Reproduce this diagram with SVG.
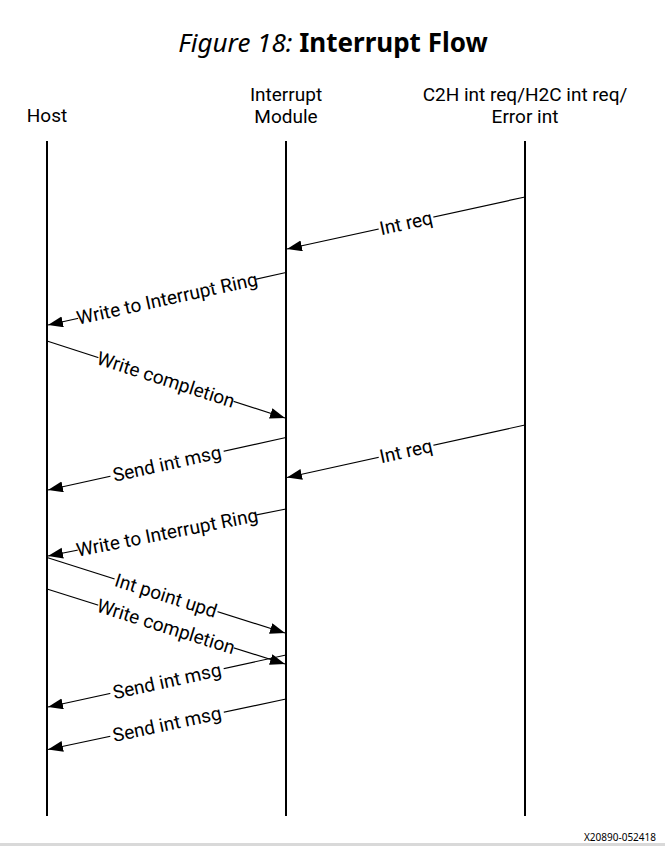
<svg xmlns="http://www.w3.org/2000/svg" width="665" height="846" viewBox="0 0 665 846">
<style>
.title{font-family:"Noto Sans","Open Sans",sans-serif;font-size:26px;fill:#000}
.hdr{font-family:Roboto,"Liberation Sans",sans-serif;font-size:19px;fill:#000;text-anchor:middle}
.life{stroke:#000;stroke-width:2;fill:none}
.msg{stroke:#000;stroke-width:1.2;fill:none;marker-end:url(#ah)}
.lbl{font-family:Roboto,"Liberation Sans",sans-serif;font-size:19px;fill:#000;text-anchor:middle}
.bg{fill:#fff}
.fig{font-family:"Noto Sans","Liberation Sans",sans-serif;font-size:10px;fill:#000;text-anchor:end}
</style>
<defs>
<marker id="ah" markerUnits="userSpaceOnUse" markerWidth="16" markerHeight="12" refX="15" refY="5.5" orient="auto">
<path d="M0,0 L15,5.5 L0,11 Z" fill="#000"/>
</marker>
</defs>
<rect width="665" height="846" fill="#fff"/>
<text class="title" x="333" y="52" text-anchor="middle"><tspan font-style="italic">Figure 18:</tspan> <tspan font-weight="bold">Interrupt Flow</tspan></text>
<g id="host">
<text class="hdr" x="47" y="122">Host</text>
<line class="life" x1="47" y1="141" x2="47" y2="816"/>
</g>
<g id="interrupt-module">
<text class="hdr" x="286" y="101">Interrupt</text>
<text class="hdr" x="286" y="123">Module</text>
<line class="life" x1="286" y1="141" x2="286" y2="816"/>
</g>
<g id="source">
<text class="hdr" x="525" y="101">C2H int req/H2C int req/</text>
<text class="hdr" x="525" y="123">Error int</text>
<line class="life" x1="525" y1="141" x2="525" y2="816"/>
</g>
<g id="connectors">
<line class="msg" x1="525" y1="197" x2="287" y2="249"/>
<line class="msg" x1="286" y1="272.5" x2="48" y2="325"/>
<line class="msg" x1="47" y1="341" x2="285" y2="418"/>
<line class="msg" x1="286" y1="437.5" x2="48" y2="490"/>
<line class="msg" x1="525" y1="425" x2="287" y2="477.5"/>
<line class="msg" x1="286" y1="509" x2="48" y2="556"/>
<line class="msg" x1="47" y1="557.5" x2="285" y2="633"/>
<line class="msg" x1="47" y1="589" x2="285" y2="664"/>
<line class="msg" x1="286" y1="655" x2="48" y2="707"/>
<line class="msg" x1="286" y1="699" x2="48" y2="749.5"/>
<g transform="translate(406,223) rotate(-12.3)"><rect class="bg" x="-28" y="-4" width="56" height="8"/><text class="lbl" dy="0.35em">Int req</text></g>
<g transform="translate(167,298.5) rotate(-12.4)"><rect class="bg" x="-91" y="-4" width="182" height="8"/><text class="lbl" dy="0.35em">Write to Interrupt Ring</text></g>
<g transform="translate(166,379.5) rotate(17.9)"><rect class="bg" x="-71" y="-4" width="142" height="8"/><text class="lbl" dy="0.35em">Write completion</text></g>
<g transform="translate(167,463.5) rotate(-12.4)"><rect class="bg" x="-58" y="-4" width="116" height="8"/><text class="lbl" dy="0.35em">Send int msg</text></g>
<g transform="translate(406,451) rotate(-12.4)"><rect class="bg" x="-28" y="-4" width="56" height="8"/><text class="lbl" dy="0.35em">Int req</text></g>
<g transform="translate(167,532.5) rotate(-11.1)"><rect class="bg" x="-91" y="-4" width="182" height="8"/><text class="lbl" dy="0.35em">Write to Interrupt Ring</text></g>
<g transform="translate(166,595.5) rotate(17.6)"><rect class="bg" x="-54" y="-4" width="108" height="8"/><text class="lbl" dy="0.35em">Int point upd</text></g>
<g transform="translate(166,626.5) rotate(17.5)"><rect class="bg" x="-71" y="-4" width="142" height="8"/><text class="lbl" dy="0.35em">Write completion</text></g>
<g transform="translate(167,681) rotate(-12.3)"><rect class="bg" x="-58" y="-4" width="116" height="8"/><text class="lbl" dy="0.35em">Send int msg</text></g>
<g transform="translate(167,724) rotate(-12)"><rect class="bg" x="-58" y="-4" width="116" height="8"/><text class="lbl" dy="0.35em">Send int msg</text></g>
</g>
<text class="fig" x="656" y="841">X20890-052418</text>
<rect x="0" y="843" width="665" height="3" fill="#d9d9d9"/>
</svg>
